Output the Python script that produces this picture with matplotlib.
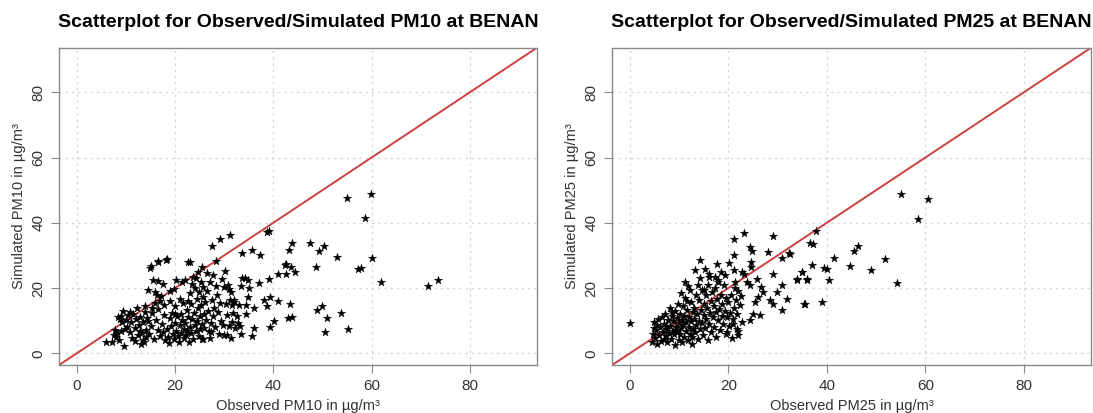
import matplotlib.pyplot as plt

plt.rcParams['font.family'] = ['Liberation Sans', 'DejaVu Sans']

# observed / simulated PM10
pm10_obs = [
    6.0, 7.2, 7.5, 8.0, 8.3, 8.7, 8.9, 9.0, 9.3, 9.5, 9.7, 9.8, 10.0, 10.2, 9.1, 8.5, 7.8,
    10.5, 10.8, 11.0, 11.3, 11.5, 11.8, 12.0, 12.2, 12.4, 12.6, 12.9, 13.1, 13.2, 13.4, 13.5,
    13.7, 13.8, 14.0, 14.2, 14.3, 13.9, 12.8, 11.9, 10.9,
    14.5, 15.0, 15.5, 16.0, 16.6, 17.6, 16.6, 18.2, 14.8, 15.2, 15.4, 15.7, 15.9, 16.2, 16.5,
    16.6, 16.9, 17.1, 17.3, 17.5, 17.8, 17.9, 16.3, 17.0, 15.3, 14.6, 17.7, 15.1, 16.6,
    18.4, 18.9, 19.8, 20.3, 21.0, 22.7, 18.3, 18.5, 18.7, 18.9, 19.1, 19.3, 19.5, 19.7, 19.9,
    20.1, 20.3, 20.5, 20.6, 20.8, 21.0, 21.2, 21.3, 21.5, 21.6, 21.8, 21.9, 19.0, 20.0, 21.4, 22.0,
    22.1, 22.2, 22.4, 22.5, 22.7, 22.8, 23.0, 23.1, 23.2, 23.3, 23.5, 23.6, 23.7, 23.9, 24.0,
    24.1, 24.3, 24.4, 24.5, 24.6, 24.8, 24.9, 25.0, 25.1, 25.2, 25.3, 25.5, 25.6, 25.7, 25.8,
    25.9, 24.2, 23.4, 22.6, 25.4, 24.7, 23.0,
    26.0, 26.2, 26.4, 26.6, 26.8, 27.0, 27.2, 27.3, 27.5, 27.7, 27.8, 28.0, 28.2, 28.4, 28.6,
    28.8, 29.0, 29.2, 29.4, 29.6, 29.8, 30.0, 30.1, 26.5, 28.3, 27.5, 29.1, 31.2,
    30.3, 30.5, 30.7, 30.9, 31.1, 31.3, 31.5, 31.7, 31.9, 32.1, 32.3, 32.6, 32.8, 33.0, 33.2,
    30.6, 31.0, 32.0, 30.0, 31.4, 27.3, 27.1, 25.5,
    33.7, 34.3, 34.9, 33.4, 35.1, 34.9, 36.0, 34.4, 34.4, 33.6, 35.7, 37.3, 38.7, 39.1, 37.1,
    39.1, 43.4, 40.9, 39.4, 38.1, 38.7, 40.1, 39.4, 42.9, 43.9, 36.0, 35.6, 33.4,
    43.8, 43.1, 42.5, 42.4, 43.7, 44.4, 42.6, 41.0, 47.4, 49.3, 50.4, 48.6, 53.0, 48.9, 50.0,
    50.9, 50.5, 53.7, 55.3, 55.1, 59.9, 58.6, 60.0, 57.3, 57.9, 61.9, 71.4, 73.6,
]
pm10_sim = [
    3.6, 3.5, 5.5, 5.0, 6.2, 4.2, 10.5, 11.3, 9.6, 13.0, 2.4, 7.5, 10.1, 8.2, 7.0, 11.0, 7.3,
    11.7, 6.5, 9.5, 4.8, 12.0, 7.8, 10.5, 13.9, 5.6, 8.8, 11.2, 3.0, 6.3, 4.0, 9.5,
    3.5, 12.7, 7.2, 5.0, 10.8, 14.5, 6.9, 3.8, 12.8,
    19.3, 26.3, 22.4, 18.8, 22.1, 21.4, 28.0, 28.7, 6.0, 8.5, 12.5, 4.5, 15.5, 10.2, 7.3,
    13.7, 5.4, 17.5, 9.0, 6.5, 11.8, 4.2, 18.0, 16.0, 14.0, 10.0, 14.8, 26.7, 28.4,
    29.0, 19.1, 19.8, 22.4, 16.8, 28.0, 7.5, 5.0, 3.2, 10.8, 8.3, 12.5, 6.0, 4.4, 9.4,
    14.5, 7.0, 11.3, 5.3, 3.5, 8.8, 12.0, 6.3, 10.2, 15.3, 4.8, 7.6, 16.0, 12.0, 21.8, 22.5,
    9.3, 5.6, 13.3, 7.0, 11.0, 3.4, 18.5, 8.2, 15.0, 6.1, 10.5, 23.5, 4.5, 12.3, 8.8,
    20.0, 6.8, 16.8, 9.8, 13.8, 5.3, 18.8, 11.5, 7.5, 22.0, 14.8, 9.0, 17.2, 4.3, 20.3,
    12.0, 23.0, 21.2, 16.0, 26.5, 25.0, 28.0,
    7.8, 15.8, 10.3, 19.2, 13.0, 6.8, 22.0, 9.2, 16.5, 24.0, 11.5, 14.0, 8.0, 20.5, 17.8,
    12.8, 6.0, 15.5, 10.0, 22.8, 8.7, 20.2, 25.3, 24.5, 28.4, 32.8, 35.1, 36.3,
    15.2, 11.8, 21.0, 8.3, 16.5, 18.8, 9.5, 14.7, 12.3, 15.8, 7.7, 11.5, 9.2, 14.8, 8.5,
    5.6, 19.8, 16.2, 5.6, 4.8, 6.5, 4.6, 4.3,
    23.1, 23.1, 22.6, 20.5, 20.0, 17.2, 13.8, 14.9, 12.1, 30.6, 31.8, 30.1, 37.2, 37.6, 21.5,
    22.8, 15.2, 15.9, 17.4, 16.4, 14.4, 10.0, 8.2, 10.8, 11.1, 7.7, 5.4, 5.8,
    33.8, 31.6, 27.4, 27.0, 26.4, 24.9, 24.4, 24.4, 33.8, 31.3, 33.0, 26.6, 29.5, 13.3, 14.4,
    10.8, 6.5, 12.3, 7.4, 47.5, 48.9, 41.5, 29.2, 25.8, 26.2, 21.8, 20.7, 22.6,
]

# observed / simulated PM25
pm25_obs = [
    0.0,
    4.5, 4.8, 5.0, 5.2, 5.4, 5.6, 5.8, 6.0, 6.2, 6.4, 6.6, 6.8, 5.5, 6.9, 4.9,
    7.0, 7.2, 7.3, 7.5, 7.6, 7.8, 8.0, 8.1, 8.2, 8.4, 8.5, 8.7, 8.8, 9.0, 9.1, 9.2, 9.3,
    9.5, 9.6, 9.8, 9.9, 10.0, 7.4, 8.6, 9.4,
    10.1, 10.2, 10.4, 10.5, 10.6, 10.7, 10.9, 11.0, 11.1, 11.3, 11.4, 11.5, 11.6, 11.8, 11.9,
    12.0, 12.1, 12.3, 12.4, 12.5, 12.7, 12.8, 12.9, 10.3, 11.2, 12.2, 11.7, 12.6,
    13.0, 13.1, 13.3, 13.4, 13.5, 13.6, 13.8, 13.9, 14.0, 14.1, 14.3, 14.4, 14.6, 14.7, 14.8,
    15.0, 15.1, 15.2, 15.4, 15.5, 15.7, 15.8, 15.9, 13.2, 14.2, 15.3,
    16.1, 16.2, 16.4, 16.5, 16.7, 16.8, 17.0, 17.1, 17.3, 17.4, 17.6, 17.7, 17.9, 18.0, 18.2,
    18.3, 18.5, 18.7, 18.8, 19.0, 19.1, 19.3, 19.5, 19.6, 19.8, 20.0, 16.0, 18.6, 19.4,
    20.2, 20.4, 20.6, 20.9, 21.1, 21.3, 21.5, 21.8, 22.0, 22.3, 22.5, 22.8, 20.8, 21.9,
    23.1, 21.2, 29.1, 24.4, 24.8, 28.1, 32.4, 30.8, 21.2, 14.3, 17.8, 20.2, 24.6, 24.6,
    21.2, 22.7, 29.1, 34.9, 33.9, 35.9, 16.0, 17.3, 18.0, 15.0, 21.4, 23.1, 23.8, 25.8, 24.4,
    26.7, 27.1, 26.1, 25.4, 28.5, 29.1, 29.8, 30.8, 31.9, 30.8, 35.6, 25.1, 26.4, 24.4,
    22.0, 21.7, 21.0, 19.7,
    55.0, 60.6, 58.6, 37.8, 36.6, 37.1, 46.3, 45.6, 41.4, 51.9, 37.0, 39.5, 40.0, 44.8, 48.9,
    34.9, 33.9, 35.9, 40.4, 54.2, 32.5, 35.4, 39.1,
]
pm25_sim = [
    9.2,
    3.5, 6.0, 9.5, 4.8, 7.2, 2.8, 10.5, 5.5, 8.2, 3.8, 11.0, 6.5, 8.8, 4.5, 7.8,
    9.0, 12.0, 5.2, 7.6, 3.4, 10.3, 6.3, 14.0, 8.5, 4.5, 11.5, 7.0, 9.8, 5.8, 13.0, 2.6, 8.0,
    10.8, 6.6, 15.2, 4.0, 9.2, 8.3, 12.7, 7.3,
    12.2, 6.0, 7.8, 10.2, 3.5, 14.5, 8.8, 5.0, 11.5, 17.0, 7.0, 9.5, 13.3, 4.2, 20.5,
    8.2, 11.0, 6.0, 15.8, 9.8, 3.0, 12.8, 7.4, 18.5, 22.0, 19.3, 16.0, 5.0,
    10.5, 14.0, 6.6, 18.0, 8.8, 12.0, 4.5, 21.0, 10.0, 16.5, 7.5, 13.2, 19.5, 9.2, 5.5,
    11.8, 15.0, 7.8, 17.8, 10.6, 13.8, 4.0, 20.8, 25.5, 23.0, 26.0,
    9.0, 12.5, 16.0, 6.5, 18.8, 11.0, 14.5, 8.0, 20.0, 12.8, 5.0, 16.8, 10.2, 22.0, 13.5,
    7.2, 18.0, 11.5, 15.0, 9.0, 20.8, 13.0, 17.0, 6.0, 11.0, 15.8, 23.5, 25.0, 24.0,
    8.5, 12.5, 18.0, 10.5, 14.0, 20.0, 16.5, 12.0, 19.0, 14.8, 17.5, 9.5, 4.8, 6.8,
    36.9, 34.9, 36.0, 32.6, 31.4, 31.1, 30.6, 29.2, 30.1, 28.7, 27.5, 27.7, 28.0, 26.5,
    25.5, 24.9, 24.4, 24.9, 22.6, 22.6, 24.4, 23.4, 22.4, 19.3, 21.9, 24.4, 21.9, 22.9, 20.9,
    20.3, 18.8, 17.3, 15.7, 16.3, 15.2, 18.8, 20.9, 16.8, 13.2, 15.0, 12.2, 11.7, 10.1,
    5.5, 7.6, 9.1, 6.5,
    48.7, 47.2, 41.2, 37.4, 33.8, 33.4, 32.8, 31.3, 29.3, 29.0, 27.2, 26.3, 26.0, 26.7, 25.5,
    24.8, 22.7, 22.9, 22.4, 21.7, 30.4, 15.0, 15.7,
]

ticks = [0, 20, 40, 60, 80]
lims = (-3.6, 93.6)

fig = plt.figure(figsize=(10.93, 4.13), dpi=100)
ax1 = fig.add_axes([0.054, 0.116, 0.437, 0.768])
ax2 = fig.add_axes([0.560, 0.116, 0.438, 0.768])

panels = [
    (ax1, pm10_obs, pm10_sim, 'PM10'),
    (ax2, pm25_obs, pm25_sim, 'PM25'),
]

for ax, obs, sim, name in panels:
    ax.set_xlim(lims)
    ax.set_ylim(lims)
    ax.set_xticks(ticks)
    ax.set_yticks(ticks)
    ax.grid(True, color='#d3d3d3', linestyle=(0, (1.5, 3)), linewidth=1)
    ax.set_axisbelow(True)
    ax.plot(lims, lims, color='#cc4040', linewidth=1.4, zorder=2)
    ax.scatter(obs, sim, marker='*', s=38, color='black', linewidths=0.3, zorder=3)
    for sp in ax.spines.values():
        sp.set_color('#8a8a8a')
        sp.set_linewidth(1.0)
    ax.tick_params(direction='out', length=6, color='#8a8a8a', labelsize=11,
                   labelcolor='#333333', pad=4)
    for lab in ax.get_yticklabels():
        lab.set_rotation(90)
        lab.set_va('center')
    ax.set_title('Scatterplot for Observed/Simulated ' + name + ' at BENAN',
                 fontsize=14.0, fontweight='bold', pad=15)

    ax.set_xlabel('Observed ' + name + ' in µg/m³', fontsize=10.5, color='#333333', labelpad=4)
    ax.set_ylabel('Simulated ' + name + ' in µg/m³', fontsize=10.5, color='#333333', labelpad=4)

fig.savefig('out.png', dpi=100)
